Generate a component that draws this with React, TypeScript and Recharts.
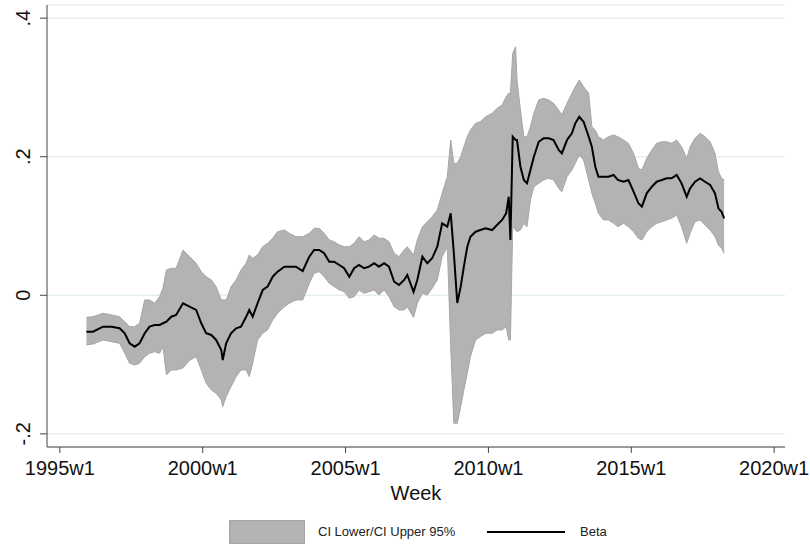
import React from "react";
import {
  ComposedChart,
  Area,
  Line,
  XAxis,
  YAxis,
  CartesianGrid,
  Legend,
} from "recharts";

// decimal year of each sampled week
const weeks = [
  1995.93, 1996.16, 1996.51, 1996.81, 1997.09, 1997.27, 1997.44, 1997.62, 1997.79, 1997.97,
  1998.14, 1998.32, 1998.49, 1998.61, 1998.73, 1998.9, 1999.07, 1999.31, 1999.54, 1999.77,
  1999.95, 2000.12, 2000.3, 2000.47, 2000.65, 2000.7, 2000.82, 2000.99, 2001.17, 2001.34,
  2001.52, 2001.63, 2001.75, 2001.92, 2002.1, 2002.27, 2002.45, 2002.62, 2002.86, 2003.03,
  2003.26, 2003.5, 2003.73, 2003.9, 2004.08, 2004.25, 2004.43, 2004.6, 2004.78, 2004.95,
  2005.13, 2005.3, 2005.47, 2005.65, 2005.82, 2006.0, 2006.17, 2006.35, 2006.52, 2006.7,
  2006.87, 2007.05, 2007.16, 2007.38, 2007.51, 2007.69, 2007.86, 2008.03, 2008.21, 2008.38,
  2008.56, 2008.68, 2008.79, 2008.91, 2009.03, 2009.14, 2009.26, 2009.37, 2009.55, 2009.72,
  2009.9, 2010.13, 2010.3, 2010.48, 2010.62, 2010.71, 2010.77, 2010.85, 2010.95, 2011.0,
  2011.12, 2011.24, 2011.35, 2011.47, 2011.59, 2011.76, 2011.93, 2012.11, 2012.28, 2012.46,
  2012.57, 2012.75, 2012.92, 2013.04, 2013.18, 2013.33, 2013.51, 2013.62, 2013.74, 2013.85,
  2014.03, 2014.2, 2014.38, 2014.53, 2014.73, 2014.9, 2015.08, 2015.25, 2015.37, 2015.54,
  2015.72, 2015.89, 2016.07, 2016.24, 2016.41, 2016.59, 2016.76, 2016.94, 2017.06, 2017.23,
  2017.41, 2017.58, 2017.76, 2017.93, 2018.05, 2018.16, 2018.25,
];

const beta = [
  -0.0525, -0.0525, -0.0453, -0.0453, -0.0476, -0.0548, -0.0693, -0.0742, -0.0693, -0.0548,
  -0.0453, -0.0429, -0.0429, -0.0404, -0.0381, -0.0309, -0.0284, -0.0115, -0.0165, -0.0212,
  -0.0404, -0.0548, -0.0573, -0.0645, -0.0789, -0.0934, -0.0693, -0.0548, -0.0476, -0.0453,
  -0.0309, -0.0212, -0.0309, -0.0115, 0.0076, 0.0124, 0.0268, 0.0341, 0.0413, 0.0413,
  0.0413, 0.035, 0.0557, 0.0654, 0.0654, 0.0606, 0.0485, 0.0485, 0.0437, 0.039,
  0.0268, 0.039, 0.0437, 0.039, 0.0413, 0.0462, 0.0413, 0.0462, 0.0413, 0.0196,
  0.0149, 0.0221, 0.0293, 0.005, 0.0221, 0.0557, 0.0462, 0.0534, 0.0701, 0.1039,
  0.099, 0.1183, 0.0606, -0.0111, 0.0124, 0.0413, 0.0701, 0.0846, 0.0918, 0.0942,
  0.0967, 0.0942, 0.1014, 0.1087, 0.1183, 0.1423, 0.0798, 0.2289, 0.2241, 0.2241,
  0.1856, 0.1664, 0.1616, 0.1808, 0.2, 0.2216, 0.2265, 0.2265, 0.2241, 0.2097,
  0.2049, 0.2241, 0.2338, 0.2482, 0.2577, 0.2505, 0.2289, 0.2144, 0.1856, 0.1711,
  0.1711, 0.1711, 0.1736, 0.1664, 0.1639, 0.1664, 0.1495, 0.1328, 0.128, 0.1472,
  0.1567, 0.1639, 0.1664, 0.1688, 0.1688, 0.1736, 0.1616, 0.1423, 0.1544, 0.1639,
  0.1688, 0.1639, 0.1592, 0.1472, 0.1255, 0.1206, 0.1111,
];

const ciLower = [
  -0.0717, -0.0703, -0.0645, -0.067, -0.0693, -0.0833, -0.0981, -0.1006, -0.0981, -0.0886,
  -0.0837, -0.0814, -0.0837, -0.0742, -0.115, -0.1078, -0.1078, -0.1049, -0.094, -0.0886,
  -0.1078, -0.127, -0.1367, -0.1414, -0.1511, -0.1608, -0.1463, -0.1319, -0.1175, -0.1078,
  -0.1078, -0.1175, -0.0981, -0.0645, -0.0548, -0.0501, -0.0356, -0.026, -0.0165, -0.0115,
  -0.0068, -0.0068, 0.0173, 0.0317, 0.0341, 0.0268, 0.0173, 0.0124, 0.0076, 0.0052,
  -0.0043, -0.002, 0.0076, 0.0029, 0.0052, 0.0076, 0.0004, 0.0076, -0.002, -0.0165,
  -0.0212, -0.0212, -0.0165, -0.032, -0.0115, 0.0029, 0.0004, 0.0101, 0.0221, 0.0557,
  0.0701, -0.0742, -0.1847, -0.1847, -0.1608, -0.1367, -0.1126, -0.0886, -0.0645, -0.0597,
  -0.0548, -0.0548, -0.0501, -0.0501, -0.0453, -0.0645, -0.0645, 0.099, 0.0942, 0.0918,
  0.0942, 0.1039, 0.099, 0.1375, 0.1567, 0.1616, 0.1664, 0.1688, 0.1664, 0.1544,
  0.1495, 0.1711, 0.1808, 0.1905, 0.2025, 0.1952, 0.1664, 0.1472, 0.1328, 0.1183,
  0.1087, 0.1087, 0.1039, 0.099, 0.1039, 0.099, 0.0918, 0.0823, 0.0798, 0.0918,
  0.099, 0.1039, 0.1062, 0.1087, 0.1111, 0.1159, 0.099, 0.075, 0.0895, 0.1062,
  0.1087, 0.1014, 0.0942, 0.0846, 0.0726, 0.0678, 0.0606,
];

const ciUpper = [
  -0.0317, -0.0309, -0.026, -0.0284, -0.0309, -0.0381, -0.0453, -0.0453, -0.0404, -0.0068,
  -0.0068, -0.0115, -0.002, 0.0105, 0.0365, 0.039, 0.039, 0.0654, 0.0557, 0.0462,
  0.0341, 0.0268, 0.0221, 0.0124, -0.0068, -0.0068, -0.0068, 0.0124, 0.0221, 0.0365,
  0.0462, 0.0582, 0.0534, 0.0582, 0.0701, 0.075, 0.0823, 0.0918, 0.0942, 0.0895,
  0.0846, 0.0846, 0.0895, 0.0967, 0.0967, 0.0895, 0.0798, 0.0773, 0.0726, 0.0701,
  0.0701, 0.075, 0.0846, 0.0773, 0.0798, 0.087, 0.0823, 0.0823, 0.0773, 0.0606,
  0.0557, 0.0654, 0.0701, 0.058, 0.0798, 0.099, 0.1062, 0.1134, 0.1231, 0.1472,
  0.1711, 0.2241, 0.1905, 0.1905, 0.2, 0.2144, 0.2289, 0.2385, 0.2482, 0.2506,
  0.2577, 0.2626, 0.2698, 0.2746, 0.2866, 0.2915, 0.2915, 0.3492, 0.3587, 0.3107,
  0.2674, 0.2289, 0.2289, 0.2433, 0.2626, 0.2818, 0.2843, 0.2818, 0.2771, 0.2674,
  0.2602, 0.2771, 0.2915, 0.301, 0.3107, 0.301, 0.2915, 0.2433, 0.2385, 0.2289,
  0.2241, 0.2289, 0.2313, 0.2289, 0.2241, 0.2193, 0.2049, 0.1833, 0.1808, 0.1977,
  0.2097, 0.2193, 0.2216, 0.2216, 0.2193, 0.2241, 0.2144, 0.1977, 0.2144, 0.2266,
  0.2338, 0.2289, 0.2216, 0.2049, 0.1784, 0.1688, 0.1664,
];

const xTicks = [1995, 2000, 2005, 2010, 2015, 2020];
const yTicks = [-0.2, 0, 0.2, 0.4];

const data = weeks.map((w, i) => ({
  week: w,
  beta: beta[i],
  ci: [ciLower[i], ciUpper[i]],
}));

const FONT = "'Liberation Sans', Arial, sans-serif";

const fmtY = (v: number) => {
  if (v === 0) return "0";
  const s = v.toFixed(1);
  return s.replace("0.", ".");
};

const YTick = (props: any) => {
  const { x, y, payload } = props;
  const bx = x - 8;
  return (
    <text
      x={bx}
      y={y}
      transform={`rotate(-90 ${bx} ${y})`}
      textAnchor="middle"
      fontSize={20}
      fontFamily={FONT}
      fill="#111"
    >
      {fmtY(payload.value)}
    </text>
  );
};

const LegendBox = () => (
  <div style={{ position: "relative", width: 810, height: 44, fontFamily: FONT }}>
    <div
      style={{
        position: "absolute",
        left: 229,
        top: 19,
        width: 74,
        height: 22,
        background: "#b3b3b3",
        border: "1px solid #a5a5a5",
      }}
    />
    <span
      style={{ position: "absolute", left: 318, top: 23, fontSize: 13, color: "#222", whiteSpace: "nowrap" }}
    >
      CI Lower/CI Upper 95%
    </span>
    <div
      style={{ position: "absolute", left: 487, top: 30, width: 78, height: 2, background: "#000" }}
    />
    <span style={{ position: "absolute", left: 580, top: 23, fontSize: 13, color: "#222" }}>
      Beta
    </span>
  </div>
);

export default function App() {
  return (
    <div style={{ position: "absolute", left: 0, top: 0, width: 810, height: 546, background: "#fff" }}>
      <ComposedChart
        width={810}
        height={546}
        data={data}
        margin={{ top: 5, right: 25, left: 0, bottom: 1 }}
      >
        <CartesianGrid horizontal vertical={false} stroke="#e6eff0" strokeWidth={1.5} />
        <XAxis
          dataKey="week"
          type="number"
          domain={[1994.55, 2020.38]}
          allowDataOverflow
          ticks={xTicks}
          tickFormatter={(v: number) => `${v}w1`}
          tickSize={6}
          tickMargin={8}
          height={54}
          stroke="#444"
          tick={{ fontSize: 20, fontFamily: FONT, fill: "#111" }}
          label={{ value: "Week", position: "insideBottom", offset: 1, fontSize: 20, fontFamily: FONT, fill: "#111" }}
        />
        <YAxis
          type="number"
          domain={[-0.219, 0.419]}
          allowDataOverflow
          ticks={yTicks}
          width={47}
          tickSize={7}
          stroke="#444"
          tick={<YTick />}
        />
        <Area
          dataKey="ci"
          type="linear"
          fill="#b3b3b3"
          fillOpacity={1}
          stroke="#a6a6a6"
          strokeWidth={1}
          isAnimationActive={false}
          legendType="none"
        />
        <Line
          dataKey="beta"
          type="linear"
          stroke="#000"
          strokeWidth={2}
          dot={false}
          isAnimationActive={false}
        />
        <Legend verticalAlign="bottom" content={() => <LegendBox />} wrapperStyle={{ left: 0, width: 810 }} />
      </ComposedChart>
    </div>
  );
}
